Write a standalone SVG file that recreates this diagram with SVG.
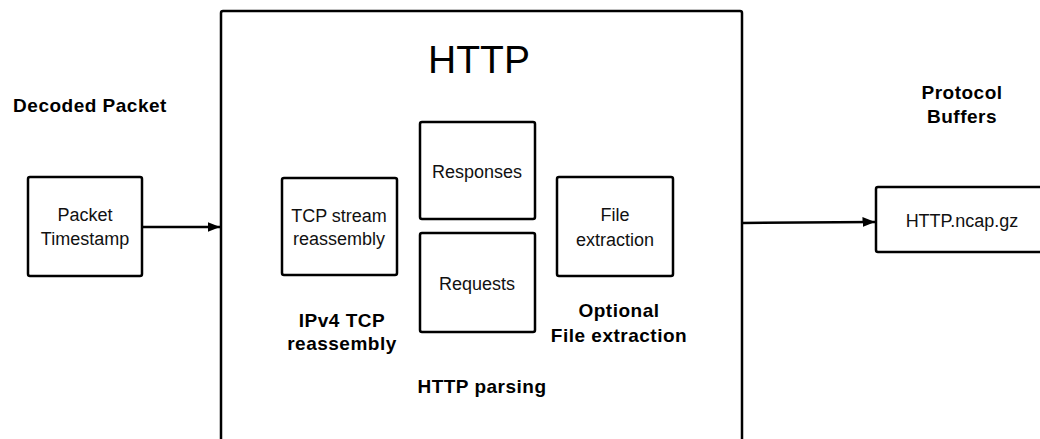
<svg xmlns="http://www.w3.org/2000/svg" width="1040" height="439" viewBox="0 0 1040 439">
<style>
.box{fill:#fff;stroke:#000;stroke-width:2.5}
.t{font-family:"Liberation Sans",Arial,sans-serif;font-size:18px;fill:#111;text-anchor:middle}
.b{font-family:"Liberation Sans",Arial,sans-serif;font-size:19px;font-weight:bold;letter-spacing:0.5px;fill:#000;text-anchor:middle}
.c{fill:none;stroke:#000;stroke-width:2.5}
</style>
<defs>
<marker id="ah" viewBox="0 0 10 10" refX="10" refY="5" markerWidth="5" markerHeight="5" orient="auto" markerUnits="strokeWidth">
<path d="M0,1 L10,5 L0,9 z" fill="#000"/>
</marker>
</defs>
<rect width="1040" height="439" fill="#fff"/>
<g id="http">
<rect class="box" x="221" y="11" width="521" height="450" rx="2"/>
<text x="479" y="73" style="font-family:'Liberation Sans',Arial,sans-serif;font-size:39px;text-anchor:middle;fill:#000">HTTP</text>
</g>
<g id="decoded-label"><text class="b" x="90" y="112">Decoded Packet</text></g>
<g id="packet">
<rect class="box" x="28" y="177" width="114" height="99" rx="2"/>
<text class="t" x="85" y="221">Packet</text>
<text class="t" x="85" y="245">Timestamp</text>
</g>
<g id="tcp">
<rect class="box" x="282" y="178" width="115" height="97" rx="2"/>
<text class="t" x="339" y="222">TCP stream</text>
<text class="t" x="339" y="245">reassembly</text>
</g>
<g id="responses">
<rect class="box" x="420" y="122" width="115" height="97" rx="2"/>
<text class="t" x="477" y="178">Responses</text>
</g>
<g id="requests">
<rect class="box" x="420" y="233" width="115" height="99" rx="2"/>
<text class="t" x="477" y="290">Requests</text>
</g>
<g id="file">
<rect class="box" x="557" y="177" width="116" height="99" rx="2"/>
<text class="t" x="615" y="221">File</text>
<text class="t" x="615" y="246">extraction</text>
</g>
<g id="ipv4-label">
<text class="b" x="342" y="327">IPv4 TCP</text>
<text class="b" x="342" y="350">reassembly</text>
</g>
<g id="optional-label">
<text class="b" x="619" y="317">Optional</text>
<text class="b" x="619" y="342">File extraction</text>
</g>
<g id="parsing-label"><text class="b" x="482" y="393">HTTP parsing</text></g>
<g id="protobuf-label">
<text class="b" x="962" y="99">Protocol</text>
<text class="b" x="962" y="123">Buffers</text>
</g>
<g id="ncap">
<rect class="box" x="876" y="187" width="180" height="65" rx="2"/>
<text class="t" x="962" y="227">HTTP.ncap.gz</text>
</g>
<g id="connectors">
<line class="c" x1="142" y1="227" x2="220" y2="227" marker-end="url(#ah)"/>
<line class="c" x1="742" y1="223" x2="875" y2="222" marker-end="url(#ah)"/>
</g>
</svg>
